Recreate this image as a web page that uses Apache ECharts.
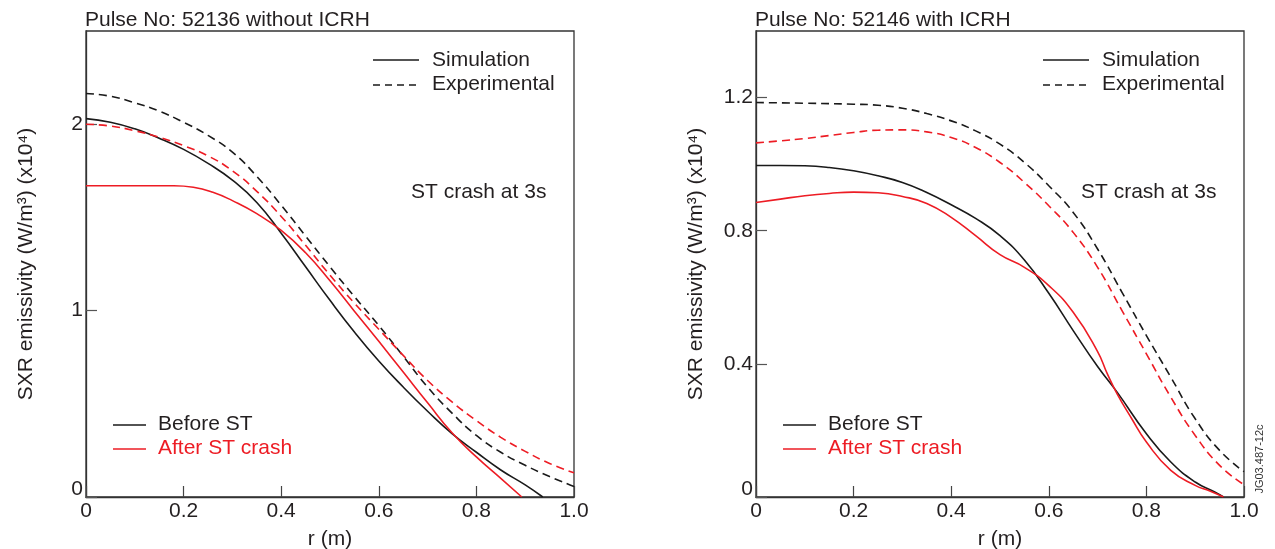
<!DOCTYPE html>
<html>
<head>
<meta charset="utf-8">
<script src="https://cdn.jsdelivr.net/npm/echarts@6/dist/echarts.min.js"></script>
<style>
html,body{margin:0;padding:0;background:#fff;}
#chart{width:1275px;height:549px;}
</style>
</head>
<body>
<div id="chart"></div>
<script>
// ---------- Data (r in m, emissivity in 10^4 W/m^3) ----------
const xTicks = [0, 0.2, 0.4, 0.6, 0.8, 1.0];
const leftTitle = 'Pulse No: 52136 without ICRH';
const rightTitle = 'Pulse No: 52146 with ICRH';

// Left panel (without ICRH)
const L_beforeSim_r = [0,0.05,0.1,0.15,0.2,0.25,0.3,0.35,0.4,0.45,0.5,0.55,0.6,0.65,0.7,0.75,0.8,0.85,0.9,0.936];
const L_beforeSim_v = [2.03,2.01,1.975,1.925,1.865,1.79,1.70,1.58,1.415,1.235,1.055,0.885,0.73,0.59,0.46,0.34,0.24,0.145,0.065,0];
const L_afterSim_r = [0,0.1,0.18,0.22,0.26,0.3,0.35,0.4,0.45,0.5,0.55,0.6,0.65,0.7,0.75,0.8,0.85,0.893];
const L_afterSim_v = [1.67,1.67,1.67,1.662,1.635,1.59,1.52,1.43,1.31,1.16,0.997,0.835,0.67,0.505,0.345,0.215,0.1,0];
const L_beforeExp_r = [0,0.05,0.1,0.15,0.2,0.25,0.3,0.35,0.4,0.45,0.5,0.55,0.6,0.65,0.7,0.75,0.8,0.85,0.9,0.95,1.0];
const L_beforeExp_v = [2.165,2.15,2.115,2.07,2.01,1.94,1.85,1.72,1.565,1.40,1.235,1.075,0.92,0.755,0.59,0.45,0.33,0.24,0.17,0.11,0.056];
const L_afterExp_r = [0,0.05,0.1,0.15,0.2,0.25,0.3,0.35,0.4,0.45,0.5,0.55,0.6,0.65,0.7,0.75,0.8,0.85,0.9,0.95,1.0];
const L_afterExp_v = [2.00,1.99,1.965,1.93,1.885,1.83,1.75,1.64,1.505,1.35,1.19,1.04,0.90,0.76,0.625,0.51,0.41,0.32,0.245,0.18,0.13];

// Right panel (with ICRH)
const R_beforeSim_r = [0,0.05,0.1,0.15,0.2,0.25,0.3,0.35,0.4,0.45,0.5,0.55,0.6,0.65,0.7,0.74,0.8,0.85,0.9,0.94,0.958];
const R_beforeSim_v = [0.996,0.996,0.995,0.99,0.98,0.965,0.945,0.915,0.878,0.837,0.785,0.712,0.612,0.5,0.392,0.315,0.19,0.105,0.045,0.015,0];
const R_afterSim_r = [0,0.05,0.1,0.15,0.2,0.25,0.3,0.35,0.4,0.45,0.5,0.55,0.6,0.65,0.7,0.72,0.74,0.77,0.8,0.85,0.9,0.93,0.958];
const R_afterSim_v = [0.885,0.895,0.905,0.912,0.916,0.914,0.903,0.882,0.84,0.785,0.728,0.69,0.635,0.555,0.437,0.37,0.31,0.235,0.165,0.08,0.035,0.018,0];
const R_beforeExp_r = [0,0.1,0.2,0.25,0.3,0.35,0.4,0.45,0.5,0.55,0.6,0.65,0.7,0.75,0.8,0.85,0.9,0.95,1.0];
const R_beforeExp_v = [1.185,1.183,1.18,1.177,1.168,1.152,1.13,1.10,1.06,1.005,0.935,0.855,0.745,0.615,0.485,0.36,0.235,0.14,0.076];
const R_afterExp_r = [0,0.05,0.1,0.15,0.2,0.25,0.3,0.35,0.4,0.45,0.5,0.55,0.6,0.65,0.7,0.75,0.8,0.85,0.9,0.95,1.0];
const R_afterExp_v = [1.064,1.07,1.077,1.086,1.095,1.102,1.103,1.097,1.08,1.05,1.005,0.945,0.875,0.795,0.69,0.56,0.43,0.30,0.185,0.095,0.037];

// ---------- Styling ----------
const FONT = "'Liberation Sans', Arial, Helvetica, sans-serif";
const TXT = '#231f20';
const BLACK = '#1a1a1a';
const RED = '#ed1c24';
const FS = 21;

function pairs(r, v) { return r.map((x, i) => [x, v[i]]); }

function xAxisDef(gridIndex) {
  return {
    type: 'value', gridIndex, min: 0, max: 1, interval: 0.2,
    name: 'r (m)', nameLocation: 'middle', nameGap: 32,
    nameTextStyle: { fontFamily: FONT, fontSize: FS, color: TXT },
    axisLine: { show: true, lineStyle: { color: '#333', width: 1.3 } },
    axisTick: { show: true, inside: true, length: 11, lineStyle: { color: '#444', width: 1.2 } },
    axisLabel: { fontFamily: FONT, fontSize: FS, color: TXT, margin: 4,
      formatter: v => v === 0 ? '0' : v.toFixed(1) },
    splitLine: { show: false }
  };
}
function yAxisDef(gridIndex, max, interval, dec) {
  return {
    type: 'value', gridIndex, min: 0, max, interval,
    name: 'SXR emissivity (W/m\u00B3) (x10\u2074)', nameLocation: 'middle', nameRotate: 90, nameGap: 49,
    nameTextStyle: { fontFamily: FONT, fontSize: FS, color: TXT },
    axisLine: { show: true, lineStyle: { color: '#333', width: 1.3 } },
    axisTick: { show: true, inside: true, length: 11, lineStyle: { color: '#555', width: 1.2 } },
    axisLabel: { fontFamily: FONT, fontSize: FS, color: TXT, margin: 3, showMaxLabel: false,
      formatter: v => v === 0 ? '{z|0}' : v.toFixed(dec),
      rich: { z: { fontFamily: FONT, fontSize: FS, color: TXT, padding: [0, 0, 15, 0] } } },
    splitLine: { show: false }
  };
}
function lineSeries(xi, name, data, color, dashed) {
  return {
    type: 'line', name, xAxisIndex: xi, yAxisIndex: xi, data,
    showSymbol: false, smooth: 0.5,
    lineStyle: { color, width: 1.6, type: dashed ? [8, 5] : 'solid' },
    silent: true, animation: false
  };
}

const G = [{ left: 86, top: 31, width: 488, height: 466 }, { left: 756, top: 31, width: 488, height: 466 }];

function legendGraphics(g) {
  const x0 = g.left, els = [];
  els.push({ type: 'line', shape: { x1: x0 + 287, y1: 60, x2: x0 + 333, y2: 60 }, style: { stroke: BLACK, lineWidth: 1.5 } });
  els.push({ type: 'text', x: x0 + 346, y: 60, style: { text: 'Simulation', font: FS + 'px ' + FONT, fill: TXT, verticalAlign: 'middle' } });
  els.push({ type: 'line', shape: { x1: x0 + 287, y1: 85, x2: x0 + 333, y2: 85 }, style: { stroke: BLACK, lineWidth: 1.5, lineDash: [7, 5] } });
  els.push({ type: 'text', x: x0 + 346, y: 84, style: { text: 'Experimental', font: FS + 'px ' + FONT, fill: TXT, verticalAlign: 'middle' } });
  els.push({ type: 'text', x: x0 + 325, y: 192, style: { text: 'ST crash at 3s', font: FS + 'px ' + FONT, fill: TXT, verticalAlign: 'middle' } });
  els.push({ type: 'line', shape: { x1: x0 + 27, y1: 425, x2: x0 + 60, y2: 425 }, style: { stroke: BLACK, lineWidth: 1.5 } });
  els.push({ type: 'text', x: x0 + 72, y: 424, style: { text: 'Before ST', font: FS + 'px ' + FONT, fill: TXT, verticalAlign: 'middle' } });
  els.push({ type: 'line', shape: { x1: x0 + 27, y1: 449, x2: x0 + 60, y2: 449 }, style: { stroke: RED, lineWidth: 1.5 } });
  els.push({ type: 'text', x: x0 + 72, y: 448, style: { text: 'After ST crash', font: FS + 'px ' + FONT, fill: RED, verticalAlign: 'middle' } });
  return els;
}

const chart = echarts.init(document.getElementById('chart'), null, { renderer: 'canvas' });
chart.setOption({
  animation: false,
  backgroundColor: '#fff',
  title: [
    { text: leftTitle, left: 80, top: 5, textStyle: { fontFamily: FONT, fontSize: FS, fontWeight: 'normal', color: TXT } },
    { text: rightTitle, left: 750, top: 5, textStyle: { fontFamily: FONT, fontSize: FS, fontWeight: 'normal', color: TXT } }
  ],
  grid: G.map(g => Object.assign({ show: true, borderColor: '#333', borderWidth: 1.3, backgroundColor: 'transparent', containLabel: false, outerBoundsMode: 'none' }, g)),
  xAxis: [xAxisDef(0), xAxisDef(1)],
  yAxis: [yAxisDef(0, 2.5, 1, 0), yAxisDef(1, 1.4, 0.4, 1)],
  series: [
    lineSeries(0, 'Before ST simulation', pairs(L_beforeSim_r, L_beforeSim_v), BLACK, false),
    lineSeries(0, 'Before ST experimental', pairs(L_beforeExp_r, L_beforeExp_v), BLACK, true),
    lineSeries(0, 'After ST simulation', pairs(L_afterSim_r, L_afterSim_v), RED, false),
    lineSeries(0, 'After ST experimental', pairs(L_afterExp_r, L_afterExp_v), RED, true),
    lineSeries(1, 'Before ST simulation', pairs(R_beforeSim_r, R_beforeSim_v), BLACK, false),
    lineSeries(1, 'Before ST experimental', pairs(R_beforeExp_r, R_beforeExp_v), BLACK, true),
    lineSeries(1, 'After ST simulation', pairs(R_afterSim_r, R_afterSim_v), RED, false),
    lineSeries(1, 'After ST experimental', pairs(R_afterExp_r, R_afterExp_v), RED, true)
  ],
  graphic: [].concat(legendGraphics(G[0]), legendGraphics(G[1]), [
    { type: 'text', x: 1260, y: 459, rotation: Math.PI / 2,
      style: { text: 'JG03.487-12c', font: '11px ' + FONT, fill: '#333', align: 'center', verticalAlign: 'middle' } }
  ])
});
</script>
</body>
</html>
